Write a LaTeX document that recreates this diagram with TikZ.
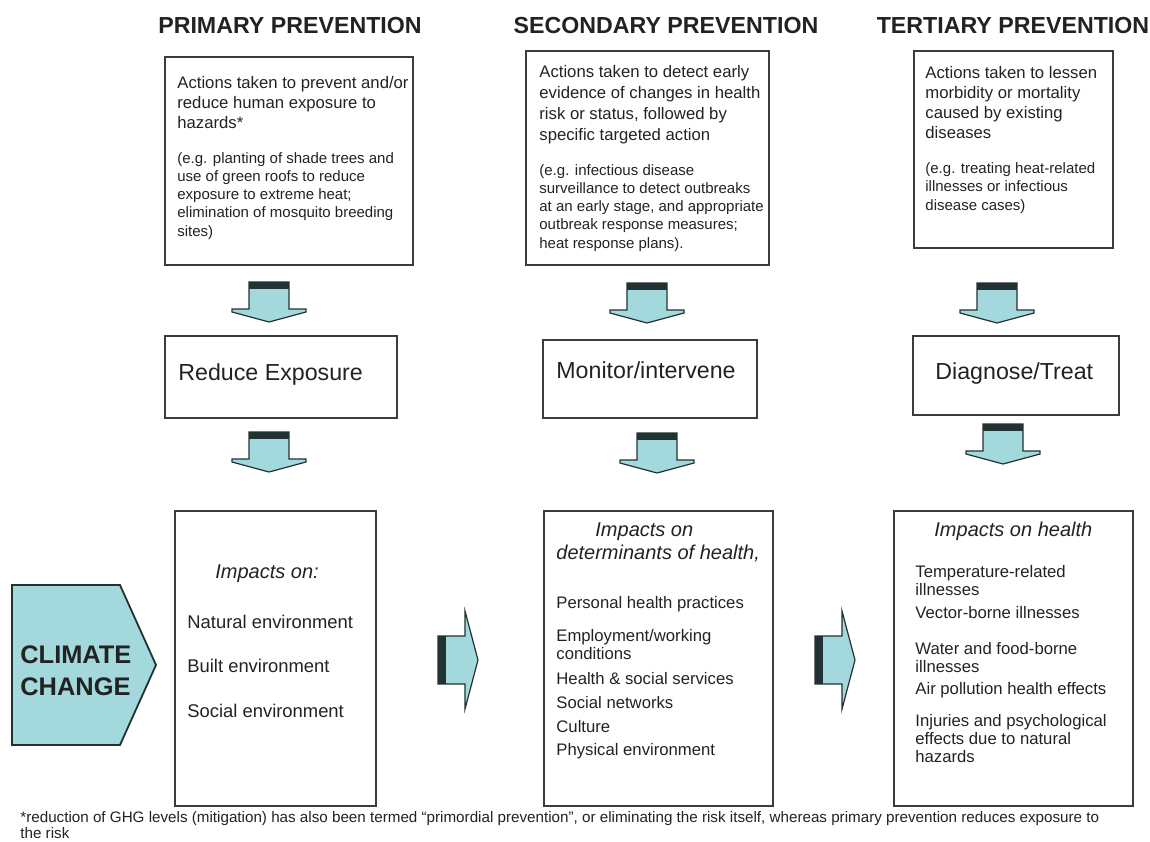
\documentclass[tikz,border=0pt]{standalone}
\usepackage{fontspec}
\setmainfont{Liberation Sans}
\definecolor{arrfill}{HTML}{A3D8DC}
\definecolor{arrdark}{HTML}{223232}
\definecolor{boxline}{HTML}{3C3C3C}
\definecolor{inktext}{HTML}{222222}
\tikzset{
  hdr/.style={font=\fontsize{11.6}{14}\selectfont\bfseries, text=inktext, inner sep=0pt, anchor=base},
  box/.style={draw=boxline, line width=0.8pt, inner sep=0pt, anchor=north west},
  para/.style={font=\fontsize{8.35}{10}\selectfont, text=inktext, inner sep=0pt, align=left, anchor=base west},
  eg/.style={font=\fontsize{7.5}{9.1}\selectfont, text=inktext, inner sep=0pt, align=left, anchor=base west},
  goal/.style={font=\fontsize{11.6}{14}\selectfont, text=inktext, inner sep=0pt, anchor=base west},
  imp/.style={font=\fontsize{10}{11.8}\selectfont\itshape, text=inktext, inner sep=0pt, anchor=base west},
  entry/.style={font=\fontsize{8.35}{8.8}\selectfont, text=inktext, inner sep=0pt, align=left, anchor=base west},
  bigentry/.style={entry, font=\fontsize{9.2}{11}\selectfont},
  cc/.style={font=\fontsize{12.7}{16}\selectfont\bfseries, text=inktext, inner sep=0pt, align=left, anchor=base west},
  foot/.style={font=\fontsize{7.6}{8}\selectfont, text=inktext, inner sep=0pt, align=left, anchor=base west},
  ccshape/.style={draw=arrdark, line width=0.9pt, fill=arrfill, line join=miter},
  arrline/.style={draw=arrdark, line width=0.6pt, line join=miter, fill=arrfill},
  pics/downarr/.style={code={
    \draw[arrline] (-20,0) -- (20,0) -- (20,27) -- (37,27) -- (37,30) -- (0,40)
      -- (-37,30) -- (-37,27) -- (-20,27) -- cycle;
    \fill[arrdark] (-20,0) rectangle (20,7);
  }},
  pics/rightarr/.style={code={
    \draw[arrline] (0,-24) -- (27,-24) -- (27,-49) -- (40,0) -- (27,49) -- (27,24)
      -- (0,24) -- cycle;
    \fill[arrdark] (0,-24) rectangle (8,24);
  }},
}
\begin{document}
\begin{tikzpicture}[x=0.5pt,y=-0.5pt]
  \useasboundingbox (0,0) rectangle (1150,841);
  % column headers
  \node[hdr] (h1) at (290,33) {PRIMARY PREVENTION};
  \node[hdr] (h2) at (666,33) {SECONDARY PREVENTION};
  \node[hdr] (h3) at (1013,33) {TERTIARY PREVENTION};
  % actions (multi-line texts sit on their last baseline)
  \node[box, minimum width=124pt, minimum height=104pt] (prev1) at (164,56) {};
  \node[para] (p1a) at (177,128) {Actions taken to prevent and/or\\reduce human exposure to\\hazards*};
  \node[eg] (p1b) at (177,236) {(e.g. planting of shade trees and\\use of green roofs to reduce\\exposure to extreme heat;\\elimination of mosquito breeding\\sites)};
  \node[box, minimum width=121.5pt, minimum height=107pt] (prev2) at (525,50) {};
  \node[para, font=\fontsize{8.35}{10.35}\selectfont] (p2a) at (539,140) {Actions taken to detect early\\evidence of changes in health\\risk or status, followed by\\specific targeted action};
  \node[eg] (p2b) at (539,248) {(e.g. infectious disease\\surveillance to detect outbreaks\\at an early stage, and appropriate\\outbreak response measures;\\heat response plans).};
  \node[box, minimum width=99.5pt, minimum height=98.5pt] (prev3) at (913,50) {};
  \node[para] (p3a) at (925,138) {Actions taken to lessen\\morbidity or mortality\\caused by existing\\diseases};
  \node[eg] (p3b) at (925,210) {(e.g. treating heat-related\\illnesses or infectious\\disease cases)};
  % arrows down
  \pic at (269,282) {downarr};
  \pic at (647,283) {downarr};
  \pic at (997,283) {downarr};
  % goals
  \node[box, minimum width=116pt, minimum height=41pt] (goal1) at (164,335) {};
  \node[goal] (g1) at (178,380) {Reduce Exposure};
  \node[box, minimum width=107pt, minimum height=39pt] (goal2) at (542,339) {};
  \node[goal] (g2) at (556,378) {Monitor/intervene};
  \node[box, minimum width=103pt, minimum height=39.5pt] (goal3) at (912,335) {};
  \node[goal] (g3) at (935,379) {Diagnose/Treat};
  % arrows down
  \pic at (269,432) {downarr};
  \pic at (657,433) {downarr};
  \pic at (1003,424) {downarr};
  % climate change
  \draw[ccshape] (12,585) -- (120,585) -- (156,665) -- (120,745) -- (12,745) -- cycle;
  \node[cc] (clim) at (20,695) {CLIMATE\\CHANGE};
  % impacts
  \node[box, minimum width=100.5pt, minimum height=147.5pt] (imp1) at (174,510) {};
  \node[imp] (i1) at (215,578) {Impacts on:};
  \node[bigentry] (e11) at (187,628) {Natural environment};
  \node[bigentry] (e12) at (187,672) {Built environment};
  \node[bigentry] (e13) at (187,717) {Social environment};
  \pic at (438,660) {rightarr};
  \node[box, minimum width=114.5pt, minimum height=147.5pt] (imp2) at (543,510) {};
  \node[imp] (i2a) at (595,536) {Impacts on};
  \node[imp] (i2b) at (556,559) {determinants of health,};
  \node[entry] (e21) at (556,608) {Personal health practices};
  \node[entry] (e22) at (556,659) {Employment/working\\conditions};
  \node[entry] (e23) at (556,684) {Health \& social services};
  \node[entry] (e24) at (556,708) {Social networks};
  \node[entry] (e25) at (556,732) {Culture};
  \node[entry] (e26) at (556,755) {Physical environment};
  \pic at (815,660) {rightarr};
  \node[box, minimum width=119.5pt, minimum height=147.5pt] (imp3) at (893,510) {};
  \node[imp] (i3) at (934,536) {Impacts on health};
  \node[entry] (e31) at (915,595) {Temperature-related\\illnesses};
  \node[entry] (e32) at (915,618) {Vector-borne illnesses};
  \node[entry] (e33) at (915,672) {Water and food-borne\\illnesses};
  \node[entry] (e34) at (915,694) {Air pollution health effects};
  \node[entry] (e35) at (915,762) {Injuries and psychological\\effects due to natural\\hazards};
  % footnote
  \node[foot] (fn) at (20,838) {*reduction of GHG levels (mitigation) has also been termed “primordial prevention”, or eliminating the risk itself, whereas primary prevention reduces exposure to\\the risk};
\end{tikzpicture}
\end{document}
